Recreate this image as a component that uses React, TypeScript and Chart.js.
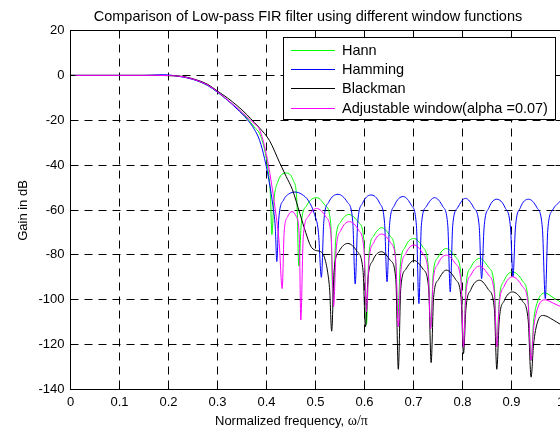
import React, { useEffect, useRef } from 'react';
import { Chart, registerables } from 'chart.js';

Chart.register(...registerables);

const FONT = '"Liberation Sans", Arial, Helvetica, sans-serif';

const xTicks = [0, 0.1, 0.2, 0.3, 0.4, 0.5, 0.6, 0.7, 0.8, 0.9, 1];
const xTickLabels = ['0', '0.1', '0.2', '0.3', '0.4', '0.5', '0.6', '0.7', '0.8', '0.9', '1'];
const yTicks = [-140, -120, -100, -80, -60, -40, -20, 0, 20];
const yTickLabels = ['-140', '-120', '-100', '-80', '-60', '-40', '-20', '0', '20'];

const chartTitle = 'Comparison of Low-pass FIR filter using different window functions';
const xTitleMain = 'Normalized frequency, ';
const xTitleSym = 'ω/π';
const yTitle = 'Gain in dB';

const seriesLabels = ['Hann', 'Hamming', 'Blackman', 'Adjustable window(alpha =0.07)'];
const seriesColors = ['#00ff00', '#0000ff', '#000000', '#ff00ff'];

const hannX = [0, 0.1, 0.15, 0.2, 0.23, 0.26, 0.28, 0.30, 0.32, 0.34, 0.36, 0.375, 0.386, 0.396, 0.403, 0.408, 0.411,
  0.415, 0.423, 0.44, 0.455, 0.462, 0.466,
  0.471, 0.482, 0.503, 0.52, 0.531, 0.536,
  0.541, 0.551, 0.568, 0.588, 0.599, 0.604,
  0.609, 0.619, 0.635, 0.652, 0.663, 0.668,
  0.673, 0.683, 0.700, 0.719, 0.730, 0.735,
  0.740, 0.750, 0.767, 0.786, 0.797, 0.802,
  0.807, 0.817, 0.835, 0.853, 0.865, 0.870,
  0.875, 0.885, 0.902, 0.922, 0.934, 0.940,
  0.945, 0.953, 0.968, 0.985, 1.0];
const hannY = [0, 0, 0, -0.1, -0.6, -2.5, -4.5, -7.5, -11, -14.5, -19, -23, -26, -33, -42, -53, -71,
  -56, -47.5, -43.5, -47, -56, -85,
  -66, -58, -54.5, -58, -66, -103,
  -74, -65.5, -62, -65.5, -74, -111,
  -80, -71.5, -67.9, -71.5, -80, -108,
  -85, -76.5, -72.7, -76.5, -85, -113,
  -89, -81, -77.2, -81, -89, -120,
  -94, -85.5, -81.6, -85.5, -94, -121,
  -100, -91.5, -87.6, -91.5, -100, -127,
  -110, -101, -97, -99, -101];

const hammingX = [0, 0.1, 0.15, 0.19, 0.22, 0.25, 0.28, 0.30, 0.32, 0.34, 0.36, 0.375, 0.386, 0.396, 0.406, 0.413, 0.418, 0.421,
  0.425, 0.435, 0.446, 0.458, 0.472, 0.486, 0.498, 0.506, 0.512,
  0.517, 0.527, 0.546, 0.565, 0.576, 0.581,
  0.586, 0.596, 0.613, 0.631, 0.641, 0.646,
  0.651, 0.661, 0.679, 0.696, 0.706, 0.711,
  0.716, 0.726, 0.743, 0.760, 0.770, 0.775,
  0.780, 0.790, 0.806, 0.823, 0.834, 0.839,
  0.844, 0.854, 0.870, 0.887, 0.898, 0.903,
  0.908, 0.918, 0.935, 0.952, 0.963, 0.969,
  0.974, 0.984, 1.0];
const hammingY = [0, 0, 0, 0.3, -0.4, -1.8, -4.5, -7.5, -11, -15, -19.5, -24, -29, -37, -48, -58, -68, -83,
  -64, -55.5, -52.8, -52, -53, -56, -62, -70, -90,
  -65, -56.5, -53, -56.5, -65, -93,
  -66, -57, -53.3, -57, -66, -92,
  -67, -58, -54, -58, -67, -101.7,
  -67, -58.5, -54.5, -58.5, -67, -96.5,
  -67, -59, -54.8, -59, -67, -90.6,
  -68, -59, -55.2, -59, -68, -89.8,
  -68, -59, -55.2, -59, -68, -99.5,
  -69, -60, -56];

const blackmanX = [0, 0.1, 0.15, 0.2, 0.23, 0.26, 0.28, 0.30, 0.32, 0.34, 0.36, 0.375, 0.386, 0.406, 0.427, 0.44, 0.453, 0.468, 0.48, 0.49, 0.5, 0.51, 0.518, 0.525, 0.529, 0.533,
  0.538, 0.548, 0.566, 0.585, 0.597, 0.602,
  0.607, 0.617, 0.635, 0.653, 0.664, 0.669,
  0.674, 0.684, 0.701, 0.720, 0.731, 0.736,
  0.741, 0.751, 0.767, 0.786, 0.797, 0.802,
  0.807, 0.817, 0.835, 0.853, 0.865, 0.870,
  0.875, 0.885, 0.902, 0.922, 0.934, 0.940,
  0.945, 0.953, 0.965, 0.985, 1.0];
const blackmanY = [0, 0, 0, -0.1, -0.5, -2.2, -4, -7, -10, -13.5, -17.5, -21, -23.5, -29, -39, -45, -51, -61.5, -70, -76, -78, -78.5, -81, -88, -96, -114,
  -87, -78.5, -74.9, -78.5, -87, -112,
  -91, -82.5, -78.6, -82.5, -91, -131,
  -95, -86.5, -82.5, -86.5, -95, -128,
  -99, -91, -86.8, -91, -99, -124,
  -104, -95.5, -91.3, -95.5, -104, -131,
  -109, -100.5, -96.5, -100.5, -109, -134.5,
  -120, -110, -107, -109, -111];

const adjustX = [0, 0.1, 0.15, 0.2, 0.23, 0.26, 0.28, 0.30, 0.32, 0.34, 0.36, 0.375, 0.386, 0.399, 0.409, 0.418, 0.426, 0.432,
  0.436, 0.443, 0.452, 0.461, 0.467, 0.470,
  0.475, 0.485, 0.502, 0.521, 0.532, 0.537,
  0.542, 0.552, 0.569, 0.588, 0.599, 0.604,
  0.609, 0.619, 0.635, 0.653, 0.664, 0.669,
  0.674, 0.684, 0.701, 0.719, 0.730, 0.735,
  0.740, 0.750, 0.767, 0.786, 0.797, 0.802,
  0.807, 0.817, 0.835, 0.853, 0.865, 0.870,
  0.875, 0.885, 0.902, 0.922, 0.934, 0.940,
  0.945, 0.953, 0.968, 0.985, 1.0];
const adjustY = [0, 0, 0, -0.1, -0.6, -2.4, -4.3, -7.3, -10.8, -14.5, -18.5, -21.5, -24.3, -34.5, -46.6, -60, -75, -95,
  -70, -63, -60.7, -63, -72, -109,
  -72, -63, -59.3, -63, -72, -103,
  -78, -69, -65.2, -69, -78, -105.5,
  -83, -74.5, -70.7, -74.5, -83, -112,
  -88, -79.5, -75.6, -79.5, -88, -113,
  -92, -84, -80.1, -84, -92, -121,
  -97, -89, -85, -89, -97, -121,
  -102, -94, -89.8, -94, -102, -127,
  -113, -104, -100, -101.5, -103];

const toPoints = (xs: number[], ys: number[]) => xs.map((x, i) => ({ x, y: ys[i] }));

const matlabPlugin = {
  id: 'matlabLook',
  beforeDatasetsDraw(chart: any) {
    const { ctx, chartArea: a, scales } = chart;
    ctx.save();
    ctx.strokeStyle = '#000';
    ctx.lineWidth = 1;
    ctx.setLineDash([8, 6]);
    xTicks.forEach((v) => {
      const px = Math.floor(scales.x.getPixelForValue(v)) + 0.5;
      if (px <= a.left + 1 || px >= a.right - 1) return;
      ctx.beginPath();
      ctx.moveTo(px, a.top);
      ctx.lineTo(px, a.bottom);
      ctx.stroke();
    });
    yTicks.forEach((v) => {
      const py = Math.floor(scales.y.getPixelForValue(v)) + 0.5;
      if (py <= a.top + 1 || py >= a.bottom - 1) return;
      ctx.beginPath();
      ctx.moveTo(a.left, py);
      ctx.lineTo(a.right, py);
      ctx.stroke();
    });
    ctx.restore();
  },
  afterDatasetsDraw(chart: any) {
    const { ctx, chartArea: a, scales } = chart;
    ctx.save();
    ctx.setLineDash([]);
    ctx.strokeStyle = '#000';
    ctx.lineWidth = 1;
    ctx.strokeRect(a.left, a.top, a.right - a.left, a.bottom - a.top);
    const tl = 5;
    ctx.beginPath();
    xTicks.forEach((v) => {
      const px = Math.floor(scales.x.getPixelForValue(v)) + 0.5;
      ctx.moveTo(px, a.bottom);
      ctx.lineTo(px, a.bottom - tl);
      ctx.moveTo(px, a.top);
      ctx.lineTo(px, a.top + tl);
    });
    yTicks.forEach((v) => {
      const py = Math.floor(scales.y.getPixelForValue(v)) + 0.5;
      ctx.moveTo(a.left, py);
      ctx.lineTo(a.left + tl, py);
      ctx.moveTo(a.right, py);
      ctx.lineTo(a.right - tl, py);
    });
    ctx.stroke();

    // legend
    const lx = 283.5, ly = 37.5, lw = 272, lh = 82;
    ctx.fillStyle = '#fff';
    ctx.fillRect(lx, ly, lw, lh);
    ctx.strokeRect(lx, ly, lw, lh);
    ctx.font = `14.5px ${FONT}`;
    ctx.textBaseline = 'middle';
    ctx.textAlign = 'left';
    chart.data.datasets.forEach((ds: any, i: number) => {
      const cy = Math.floor(50 + i * 19.4) + 0.5;
      ctx.strokeStyle = ds.borderColor;
      ctx.beginPath();
      ctx.moveTo(291, cy);
      ctx.lineTo(335, cy);
      ctx.stroke();
      ctx.fillStyle = '#000';
      ctx.fillText(ds.label, 342, cy + 0.5);
    });
    ctx.restore();
  },
  afterDraw(chart: any) {
    const { ctx } = chart;
    ctx.save();
    ctx.fillStyle = '#000';
    ctx.font = `14.5px ${FONT}`;
    ctx.textBaseline = 'alphabetic';
    ctx.textAlign = 'center';
    ctx.fillText(chartTitle, 308, 20.5);

    // x title
    ctx.font = `13px ${FONT}`;
    ctx.textAlign = 'left';
    ctx.fillText(xTitleMain, 215, 425);
    const w = ctx.measureText(xTitleMain).width;
    ctx.font = `14px "Liberation Serif", "DejaVu Serif", serif`;
    ctx.fillText(xTitleSym, 215 + w, 425);

    // y title
    ctx.font = `13px ${FONT}`;
    ctx.translate(26.5, 210.5);
    ctx.rotate(-Math.PI / 2);
    ctx.textAlign = 'center';
    ctx.fillText(yTitle, 0, 0);
    ctx.restore();
  },
};

export default function App() {
  const canvasRef = useRef<HTMLCanvasElement | null>(null);

  useEffect(() => {
    document.body.style.margin = '0';
    const canvas = canvasRef.current;
    if (!canvas) return;
    const xs = [hannX, hammingX, blackmanX, adjustX];
    const ys = [hannY, hammingY, blackmanY, adjustY];
    const chart = new Chart(canvas, {
      type: 'line',
      data: {
        datasets: seriesLabels.map((label, i) => ({
          label,
          data: toPoints(xs[i], ys[i]),
          borderColor: seriesColors[i],
          backgroundColor: seriesColors[i],
          borderWidth: 1,
          pointRadius: 0,
          fill: false,
          cubicInterpolationMode: 'monotone' as const,
          order: 4 - i,
        })),
      },
      options: {
        animation: false,
        responsive: false,
        events: [],
        layout: { padding: { left: 0, top: 30.5, right: 19.5, bottom: 0 } },
        plugins: {
          legend: { display: false },
          title: { display: false },
          tooltip: { enabled: false },
        },
        scales: {
          x: {
            type: 'linear',
            min: 0,
            max: 1,
            afterBuildTicks: (s: any) => {
              s.ticks = xTicks.map((v) => ({ value: v }));
            },
            afterFit: (s: any) => {
              s.height = 40.5;
            },
            grid: { display: false, drawTicks: false },
            border: { display: false },
            ticks: {
              padding: 5,
              color: '#000',
              font: { family: FONT, size: 13 },
              maxRotation: 0,
              autoSkip: false,
              callback: (v: any) => xTickLabels[xTicks.indexOf(Number(v))],
            },
          },
          y: {
            type: 'linear',
            min: -140,
            max: 20,
            afterBuildTicks: (s: any) => {
              s.ticks = yTicks.map((v) => ({ value: v }));
            },
            afterFit: (s: any) => {
              s.width = 70.5;
            },
            grid: { display: false, drawTicks: false },
            border: { display: false },
            ticks: {
              padding: 6,
              color: '#000',
              font: { family: FONT, size: 13 },
              autoSkip: false,
              callback: (v: any) => yTickLabels[yTicks.indexOf(Number(v))],
            },
          },
        },
      },
      plugins: [matlabPlugin],
    } as any);
    return () => chart.destroy();
  }, []);

  return (
    <div style={{ position: 'fixed', left: 0, top: 0, width: 560, height: 430, overflow: 'hidden', background: '#fff' }}>
      <canvas ref={canvasRef} width={580} height={430} style={{ display: 'block', width: 580, height: 430 }} />
    </div>
  );
}
